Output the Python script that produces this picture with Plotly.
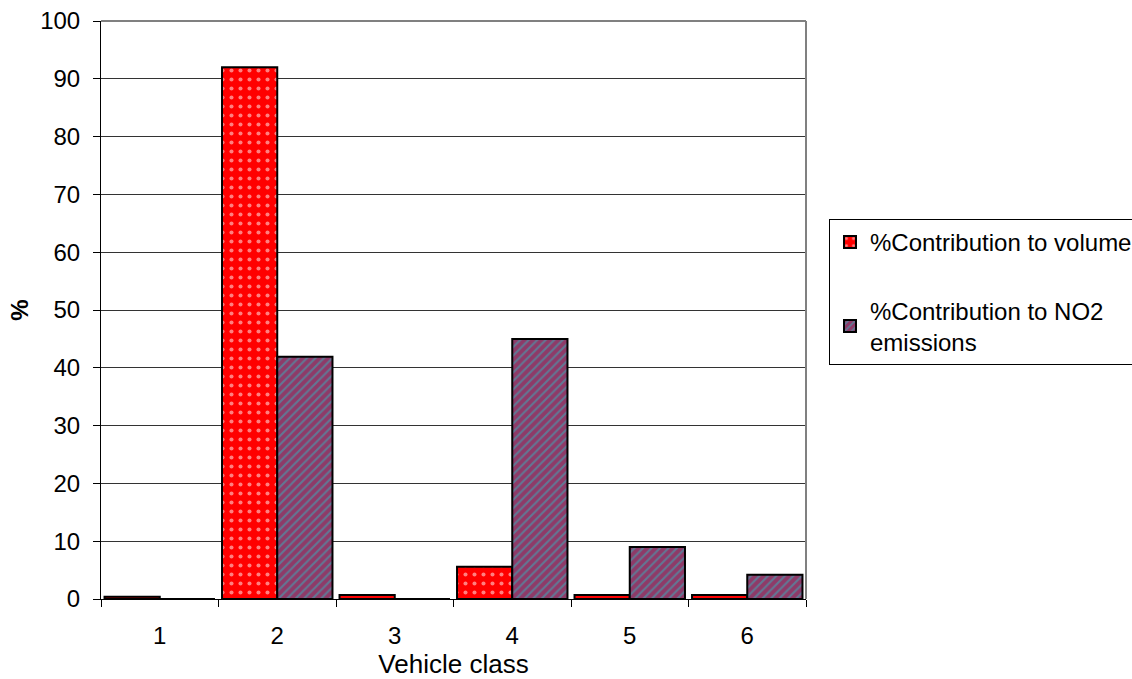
import plotly.graph_objects as go

# Vehicle classes and their share of traffic volume / NO2 emissions (%)
vehicle_classes = ["1", "2", "3", "4", "5", "6"]
volume_pct = [0.4, 92.0, 0.7, 5.6, 0.7, 0.7]
no2_pct = [0.0, 41.9, 0.0, 45.0, 9.0, 4.2]
y_ticks = [0, 10, 20, 30, 40, 50, 60, 70, 80, 90, 100]

FONT = "Liberation Sans, Arial, sans-serif"

fig = go.Figure()

fig.add_trace(go.Bar(
    x=vehicle_classes,
    y=volume_pct,
    name="%Contribution to volume",
    legendgroup="vol",
    marker=dict(
        color="#FF0000",
        line=dict(color="#000000", width=2),
        pattern=dict(shape=".", fgcolor="#FFFFFF", bgcolor="#FF0000",
                     size=9, solidity=0.16),
    ),
))

fig.add_trace(go.Bar(
    x=vehicle_classes,
    y=no2_pct,
    name="%Contribution to NO2<br>emissions",
    legendgroup="no2",
    marker=dict(
        color="#993366",
        line=dict(color="#000000", width=2),
        pattern=dict(shape="/", fgcolor="#33B5C0", bgcolor="#8E3A68",
                     size=6, solidity=0.35),
    ),
))

fig.update_layout(
    width=1132,
    height=679,
    margin=dict(l=101, r=326, t=21, b=80, autoexpand=False),
    paper_bgcolor="#FFFFFF",
    plot_bgcolor="#FFFFFF",
    barmode="group",
    bargap=0.06,
    bargroupgap=0,
    font=dict(family=FONT, size=23, color="#000000"),
    showlegend=True,
    legend=dict(
        xref="container",
        yref="container",
        x=829 / 1132,
        xanchor="left",
        y=1 - 219 / 679,
        yanchor="top",
        bordercolor="#000000",
        borderwidth=1,
        bgcolor="#FFFFFF",
        font=dict(family=FONT, size=24, color="#000000"),
        tracegroupgap=34,
        itemwidth=30,
    ),
    xaxis=dict(
        type="category",
        automargin=False,
        showline=True,
        linecolor="#000000",
        linewidth=1,
        ticks="outside",
        tickson="boundaries",
        ticklen=7,
        tickcolor="#000000",
        showgrid=False,
        tickfont=dict(family=FONT, size=24),
        ticklabelstandoff=15,
        title=dict(text="Vehicle class", font=dict(family=FONT, size=26),
                   standoff=11),
    ),
    yaxis=dict(
        range=[0, 100],
        automargin=False,
        tickvals=y_ticks,
        showline=True,
        linecolor="#000000",
        linewidth=1,
        ticks="outside",
        ticklen=7,
        tickcolor="#000000",
        showgrid=True,
        gridcolor="#333333",
        gridwidth=1,
        zeroline=False,
        tickfont=dict(family=FONT, size=24),
        ticklabelstandoff=8,
        title=dict(text="<b>%</b>", font=dict(family=FONT, size=24),
                   standoff=4),
    ),
)

# Grey frame on the top and right sides of the plot area
fig.add_shape(type="line", xref="paper", yref="paper", x0=0, x1=1, y0=1, y1=1,
              line=dict(color="#808080", width=2), layer="above")
fig.add_shape(type="line", xref="paper", yref="paper", x0=1, x1=1, y0=0, y1=1,
              line=dict(color="#808080", width=2), layer="above")

fig.write_html("out.html")
